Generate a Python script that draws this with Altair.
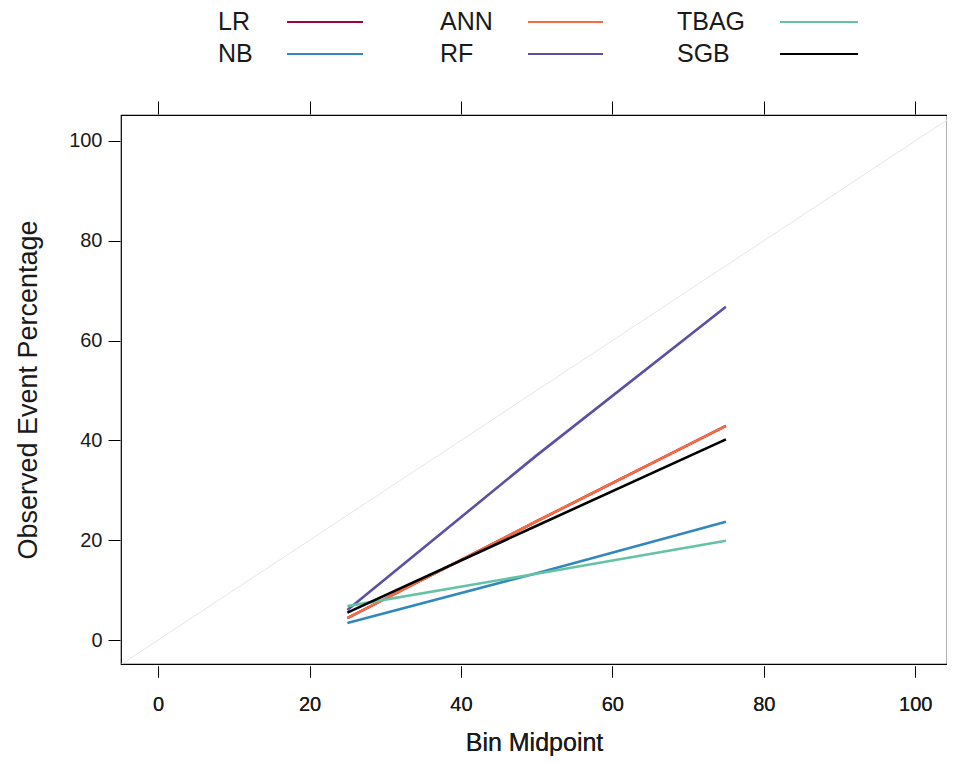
import altair as alt
import pandas as pd

# ---- data ----
models = ["LR", "NB", "ANN", "RF", "TBAG", "SGB"]
colors = ["#9E0142", "#3288BD", "#F46D43", "#5E4FA2", "#66C2A5", "#000000"]
bin_mid = [25, 50, 75]
obs = {
    "LR":   [4.4, 23.8, 42.9],
    "NB":   [3.4, 13.4, 23.7],
    "ANN":  [4.4, 23.8, 42.9],
    "RF":   [6.0, 37.0, 66.8],
    "TBAG": [6.8, 13.3, 19.9],
    "SGB":  [5.5, 22.9, 40.2],
}
ticks = [0, 20, 40, 60, 80, 100]
diag = [-5, 106]

rows = []
for i, m in enumerate(models):
    for x, y in zip(bin_mid, obs[m]):
        rows.append({"model": m, "order": i, "x": x, "y": y})
df = pd.DataFrame(rows)
diag_df = pd.DataFrame({"x": diag, "y": diag})

W, H = 826, 549
FONT = "Liberation Sans"
TXT = "#1a1a1a"

xs = alt.Scale(domain=[-4.9, 104.2], nice=False, zero=False)
ys = alt.Scale(domain=[-4.8, 105.2], nice=False, zero=False)

x_axis = alt.Axis(values=ticks, orient="bottom", domain=False, grid=False,
                  tickSize=11, offset=2, tickColor="#000", tickWidth=1,
                  labelFontSize=20, labelFont=FONT, labelColor=TXT,
                  labelPadding=17, title="Bin Midpoint", titleFontSize=25,
                  titleFont=FONT, titleFontWeight="normal", titleColor=TXT,
                  titleY=76, titleBaseline="middle")
y_axis = alt.Axis(values=ticks, orient="left", domain=False, grid=False,
                  tickSize=12, offset=1, tickColor="#000", tickWidth=1,
                  labelFontSize=20, labelFont=FONT, labelColor=TXT,
                  labelPadding=6, title="Observed Event Percentage",
                  titleFontSize=27, titleFont=FONT, titleFontWeight="normal",
                  titleColor=TXT, titleX=-92, titleY=H / 2,
                  titleBaseline="middle", titleAngle=-90)
top_axis = alt.Axis(values=ticks, orient="top", domain=False, grid=False,
                    labels=False, title=None, tickSize=13, offset=1, tickColor="#000")

diag_layer = alt.Chart(diag_df).mark_line(color="#e6e6e6", strokeWidth=1, clip=True).encode(
    x=alt.X("x:Q", scale=xs, axis=x_axis),
    y=alt.Y("y:Q", scale=ys, axis=y_axis),
)

# top axis with ticks only
top_layer = alt.Chart(diag_df).mark_line(opacity=0, clip=True).encode(
    x=alt.X("x:Q", scale=xs, axis=top_axis),
    y=alt.Y("y:Q", scale=ys, axis=y_axis),
)

lines = alt.Chart(df).mark_line(strokeWidth=2.6).encode(
    x=alt.X("x:Q", scale=xs, axis=x_axis),
    y=alt.Y("y:Q", scale=ys, axis=y_axis),
    color=alt.Color("model:N", scale=alt.Scale(domain=models, range=colors), legend=None),
    detail="model:N",
    order="x:Q",
)

# custom legend (label to the left of a line key), 3 columns x 2 rows
leg_text_x = [97, 319, 556]
leg_line_x1 = [166, 407, 659]
leg_line_x2 = [242, 482, 737]
leg_y = [-93, -61]
leg_rows = []
for i, m in enumerate(models):
    c, r = i // 2, i % 2
    leg_rows.append({"model": m, "tx": leg_text_x[c], "x1": leg_line_x1[c],
                     "x2": leg_line_x2[c], "ly": leg_y[r]})
leg_df = pd.DataFrame(leg_rows)

leg_text = alt.Chart(leg_df).mark_text(align="left", baseline="middle", fontSize=25,
                                       font=FONT, color=TXT).encode(
    x=alt.X("tx:Q", scale=None), y=alt.Y("ly:Q", scale=None),
    text="model:N")
leg_line = alt.Chart(leg_df).mark_rule(strokeWidth=2).encode(
    x=alt.X("x1:Q", scale=None), x2="x2:Q",
    y=alt.Y("ly:Q", scale=None),
    color=alt.Color("model:N", scale=alt.Scale(domain=models, range=colors), legend=None))

chart = alt.layer(diag_layer, top_layer, lines, leg_text, leg_line).properties(
    width=W, height=H,
    autosize=alt.AutoSizeParams(type="none"),
    padding={"left": 113, "top": 107, "right": 0, "bottom": 92},
).configure(
    background="white",
    view=alt.ViewConfig(stroke="#000", strokeWidth=1.2),
)

chart.save("out.html", embed_options={"renderer": "svg", "actions": False})
